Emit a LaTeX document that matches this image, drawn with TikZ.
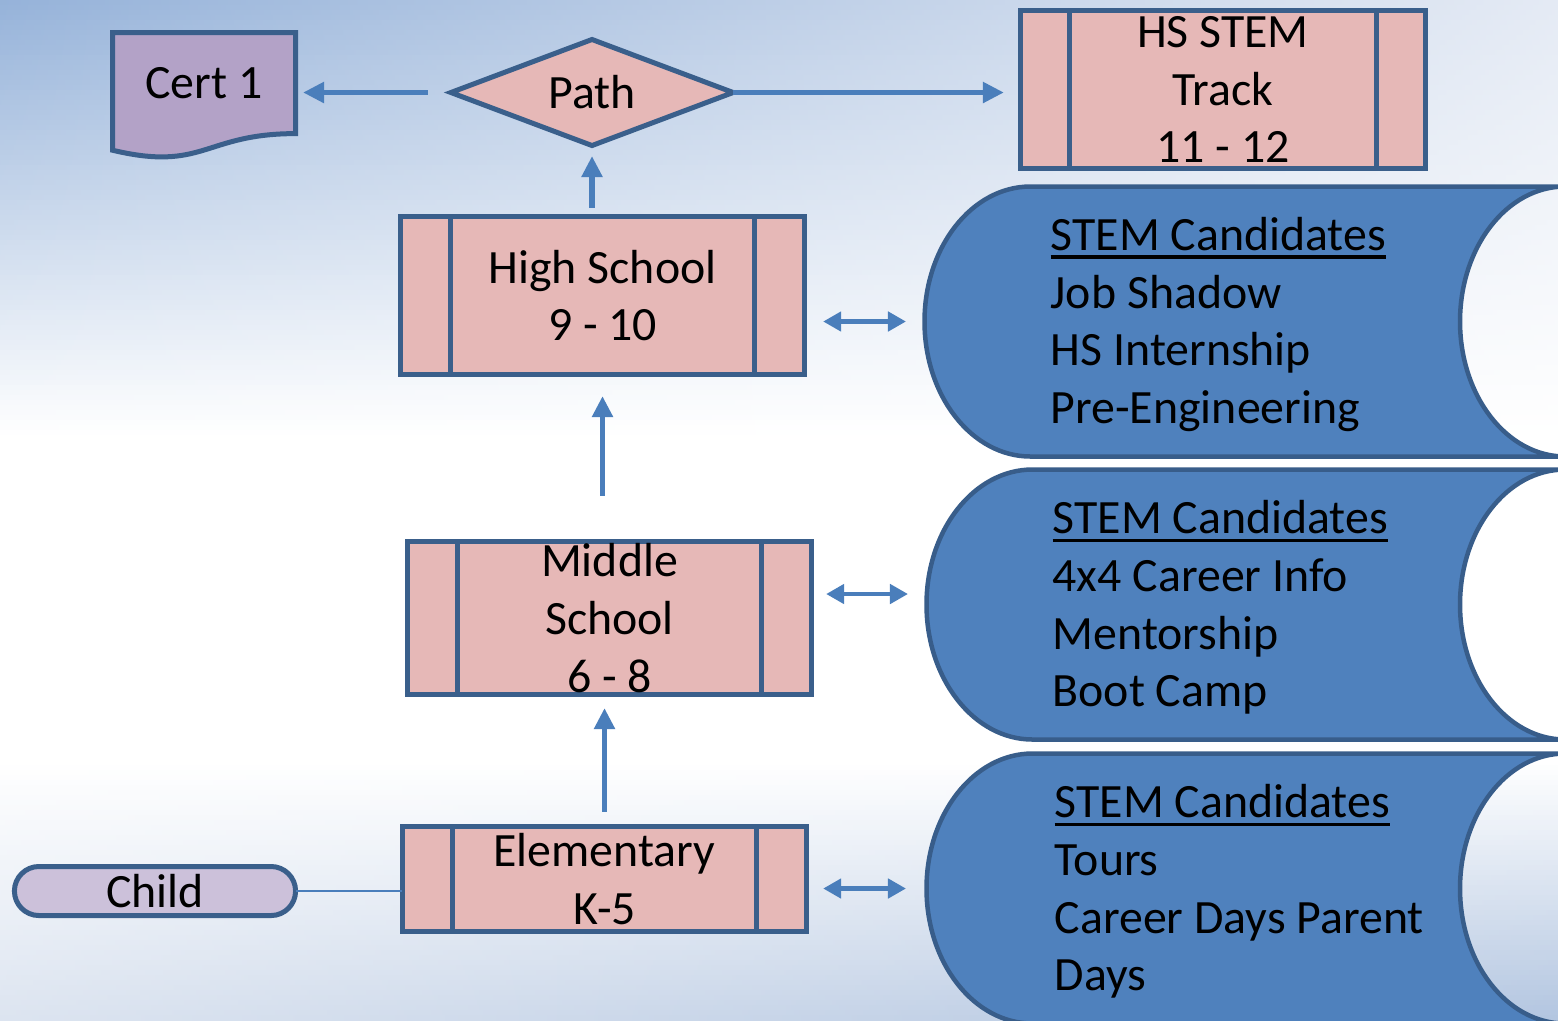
\documentclass[tikz,border=0pt]{standalone}
\usepackage{fontspec}
\setmainfont{Carlito}
\usetikzlibrary{shapes.geometric,arrows.meta,calc}
\definecolor{bordc}{HTML}{3A5F8B}
\definecolor{pinkc}{HTML}{E6B8B7}
\definecolor{arrc}{HTML}{4A7EBB}
\definecolor{tapec}{HTML}{4F81BD}
\definecolor{tapeb}{HTML}{385D8A}
\definecolor{certc}{HTML}{B3A2C7}
\definecolor{childc}{HTML}{CCC1DA}
\definecolor{bgtopL}{HTML}{95B2D9}
\definecolor{bgtopR}{HTML}{E4EAF4}
\definecolor{bgbotL}{HTML}{DCE4F0}
\definecolor{bgbotR}{HTML}{B2C5E0}
\newcommand\stemul[1]{\leavevmode\vtop{\hbox{#1}\kern1.3pt\hrule height 0.9pt}}
\newcommand\sidebars[2]{%
  \draw[draw=bordc, line width=0.05cm] ($(#1.north west)+(#2,0)$) -- ($(#1.south west)+(#2,0)$);
  \draw[draw=bordc, line width=0.05cm] ($(#1.north east)+(-#2,0)$) -- ($(#1.south east)+(-#2,0)$);}
\begin{document}
\begin{tikzpicture}[x=0.01cm,y=-0.01cm,
  every node/.style={font=\fontsize{13.6}{16.4}\selectfont, text=black},
  proc/.style={draw=bordc, fill=pinkc, line width=0.05cm, rectangle, align=center, inner sep=0pt, outer sep=0pt},
  conn/.style={draw=arrc, line width=0.055cm, -{Triangle[length=0.21cm,width=0.2cm]}},
  dbl/.style={draw=arrc, line width=0.045cm, {Triangle[length=0.18cm,width=0.19cm]}-{Triangle[length=0.18cm,width=0.19cm]}},
  tapebox/.style={draw=tapeb, fill=tapec, line width=0.045cm},
  tapetext/.style={anchor=west, align=left, inner sep=0pt}
]
% background
\useasboundingbox (0,0) rectangle (1558,1020);
\fill[white] (0,0) rectangle (1558,1020);
\foreach \i in {0,...,87}{
  \pgfmathtruncatemacro\p{100-100*(\i+0.5)/88}
  \shade[left color=bgtopL!\p!white, right color=bgtopR!\p!white] (0,\i*5) rectangle (1558,\i*5+5.4);
}
\foreach \i in {0,...,51}{
  \pgfmathtruncatemacro\p{100*(\i+0.5)/52}
  \shade[left color=bgbotL!\p!white, right color=bgbotR!\p!white] (0,760+\i*5) rectangle (1558,765.4+\i*5);
}

% stored-data tapes
\draw[tapebox] (1030.5,186.5) -- (1565,186.5) arc[start angle=270, end angle=90, x radius=105, y radius=135]
  -- (1030.5,456.5) arc[start angle=90, end angle=270, x radius=106, y radius=135] -- cycle;
\draw[tapebox] (1032.5,469.5) -- (1565,469.5) arc[start angle=270, end angle=90, x radius=105, y radius=135]
  -- (1032.5,739.5) arc[start angle=90, end angle=270, x radius=106, y radius=135] -- cycle;
\draw[tapebox] (1032.5,753.5) -- (1565,753.5) arc[start angle=270, end angle=90, x radius=105, y radius=135]
  -- (1032.5,1023.5) arc[start angle=90, end angle=270, x radius=106, y radius=135] -- cycle;
\coordinate (tape1) at (924.5,321.5);
\coordinate (tape2) at (926.5,604.5);
\coordinate (tape3) at (926.5,888.5);

\node[tapetext] (t1) at (1050,324.5) {\stemul{STEM Candidates}\\Job Shadow\\HS Internship\\Pre-Engineering};
\node[tapetext] (t2) at (1052,607.5) {\stemul{STEM Candidates}\\4x4 Career Info\\Mentorship\\Boot Camp};
\node[tapetext] (t3) at (1054,891.5) {\stemul{STEM Candidates}\\Tours\\Career Days Parent\\Days};

% document shape Cert 1
\draw[draw=bordc, fill=certc, line width=0.05cm] (112.5,32.5) -- (295.5,32.5) -- (295.5,133.6)
  .. controls (204,133.6) and (204,172) .. (112.5,150.2) -- cycle;
\node[minimum width=1.83cm, minimum height=1.01cm, inner sep=0pt, outer sep=0pt] (cert) at (204,83) {Cert 1};

% decision
\node[diamond, aspect=2.6, draw=bordc, fill=pinkc, line width=0.05cm, minimum width=2.82cm, minimum height=1.06cm, inner sep=0pt, outer sep=0pt] (pathd) at (592,92.5) {Path};

% process boxes
\node[proc, minimum width=4.05cm, minimum height=1.58cm] (stem) at (1223,89.5) {HS STEM\\Track\\11 - 12};
\sidebars{stem}{49.5}
\node[proc, minimum width=4.04cm, minimum height=1.58cm] (hs) at (602.5,295.5) {High School\\9 - 10};
\sidebars{hs}{50}
\node[proc, minimum width=4.04cm, minimum height=1.53cm] (ms) at (609.5,618) {Middle\\School\\6 - 8};
\sidebars{ms}{50}
\node[proc, minimum width=4.04cm, minimum height=1.05cm] (el) at (604.5,879) {Elementary\\K-5};
\sidebars{el}{50}

% child terminator
\node[draw=bordc, fill=childc, line width=0.05cm, rounded corners=0.245cm, minimum width=2.81cm, minimum height=0.49cm, inner sep=0pt, outer sep=0pt] (child) at (155,891) {Child};

% connectors
\draw[conn, shorten <=0.23cm, shorten >=0.075cm] (pathd.west) -- (pathd.west -| cert.east);
\draw[conn, shorten >=0.165cm] (pathd.east) -- (pathd.east -| stem.west);
\draw[conn, shorten <=0.085cm, shorten >=0.105cm] (pathd.south |- hs.north) -- (pathd.south);
\draw[conn, shorten <=0.455cm, shorten >=0.215cm] (ms.north -| hs.south) -- (hs.south);
\draw[conn, shorten <=0.145cm, shorten >=0.135cm] (el.north) -- (el.north |- ms.south);
\draw[draw=arrc, line width=0.02cm] (child.east) -- (child.east -| el.west);

\draw[dbl, shorten <=0.185cm, shorten >=0.185cm] (tape1 -| hs.east) -- (tape1);
\draw[dbl, shorten <=0.145cm, shorten >=0.185cm] ([yshift=0.105cm]tape2 -| ms.east) -- ([yshift=0.105cm]tape2);
\draw[dbl, shorten <=0.165cm, shorten >=0.205cm] (tape3 -| el.east) -- (tape3);
\end{tikzpicture}
\end{document}
